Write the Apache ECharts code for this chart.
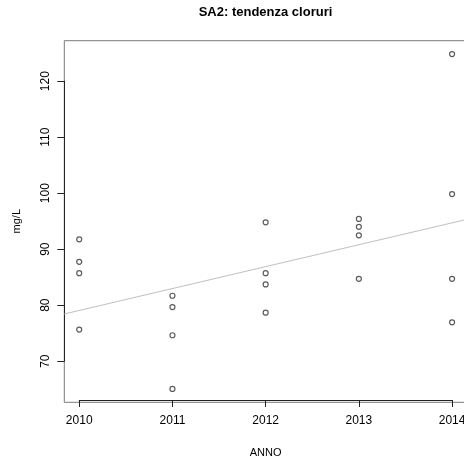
<!DOCTYPE html>
<html>
<head>
<meta charset="utf-8">
<script src="https://cdn.jsdelivr.net/npm/echarts@6/dist/echarts.min.js"></script>
<style>
html,body{margin:0;padding:0;background:#fff;overflow:hidden;width:464px;height:463px;}
#chart{width:472px;height:463px;}
</style>
</head>
<body>
<div id="chart"></div>
<script>
// ---- data ----
const anno = [2010, 2010, 2010, 2010,
              2011, 2011, 2011, 2011,
              2012, 2012, 2012, 2012,
              2013, 2013, 2013, 2013,
              2014, 2014, 2014, 2014];
const cloruri = [92, 88, 86, 76,
                 82, 80, 75, 65.5,
                 95, 86, 84, 79,
                 95.6, 94.2, 92.7, 85,
                 124.8, 100, 85, 77.3];
const xTicks = [2010, 2011, 2012, 2013, 2014];
const yTicks = [70, 80, 90, 100, 110, 120];
const titleText = 'SA2: tendenza cloruri';
const xName = 'ANNO';
const yName = 'mg/L';

// ---- layout (plot box in pixels; the box runs past the right edge of the window) ----
const FONT = 'Liberation Sans, Arial, Helvetica, sans-serif';
const boxL = 64.3, boxT = 40.7, boxR = 467.0, boxB = 402.3;
const boxW = boxR - boxL, boxH = boxB - boxT;

// R-style 4% axis extension
function ext(arr){ const mn=Math.min(...arr), mx=Math.max(...arr), d=(mx-mn)*0.04; return [mn-d, mx+d]; }
const [xMin, xMax] = ext(anno);
const [yMin, yMax] = ext(cloruri);

// least squares fit (abline(lm(y~x)))
const n = anno.length;
const mx = anno.reduce((a,b)=>a+b,0)/n, my = cloruri.reduce((a,b)=>a+b,0)/n;
let sxy=0, sxx=0;
for(let i=0;i<n;i++){ sxy += (anno[i]-mx)*(cloruri[i]-my); sxx += (anno[i]-mx)**2; }
const slope = sxy/sxx, icpt = my - slope*mx;
const fitLine = [[xMin, icpt+slope*xMin],[xMax, icpt+slope*xMax]];

// inner grid spanning the tick range (R draws axis lines only over ticks)
const tx0 = xTicks[0], tx1 = xTicks[xTicks.length-1];
const ty0 = yTicks[0], ty1 = yTicks[yTicks.length-1];
const g1L = boxL + (tx0-xMin)/(xMax-xMin)*boxW;
const g1W = (tx1-tx0)/(xMax-xMin)*boxW;
const g1T = boxT + (yMax-ty1)/(yMax-yMin)*boxH;
const g1H = (ty1-ty0)/(yMax-yMin)*boxH;

const chart = echarts.init(document.getElementById('chart'), null, {renderer:'canvas'});
chart.setOption({
  animation:false,
  backgroundColor:'#fff',
  title:{
    text:titleText, left:265.5, top:6, textAlign:'center', padding:0,
    textStyle:{fontFamily:FONT, fontSize:13, fontWeight:'bold', color:'#000'}
  },
  grid:[
    {left:boxL, top:boxT, width:boxW, height:boxH, show:true, borderColor:'#7a7a7a', borderWidth:1, backgroundColor:'transparent'},
    {left:g1L, top:g1T, width:g1W, height:g1H, show:false}
  ],
  xAxis:[
    {gridIndex:0, type:'value', min:xMin, max:xMax, show:false},
    {gridIndex:1, type:'value', min:tx0, max:tx1, interval:1, position:'bottom',
     offset: boxB-(g1T+g1H),
     axisLine:{show:true, lineStyle:{color:'#222', width:1}},
     axisTick:{show:true, length:7, inside:false, lineStyle:{color:'#222'}},
     axisLabel:{show:true, margin:15, fontFamily:FONT, fontSize:12, color:'#000',
       formatter:v=>String(v), showMinLabel:true, showMaxLabel:true},
     splitLine:{show:false},
     name:xName, nameLocation:'middle', nameGap:47,
     nameTextStyle:{fontFamily:FONT, fontSize:11, color:'#000'}}
  ],
  yAxis:[
    {gridIndex:0, type:'value', min:yMin, max:yMax, show:false},
    {gridIndex:1, type:'value', min:ty0, max:ty1, interval:10, position:'left',
     offset: g1L-boxL,
     axisLine:{show:true, lineStyle:{color:'#222', width:1}},
     axisTick:{show:true, length:7, inside:false, lineStyle:{color:'#222'}},
     axisLabel:{show:true, margin:13, rotate:90, fontFamily:FONT, fontSize:12, color:'#000',
       showMinLabel:true, showMaxLabel:true},
     splitLine:{show:false},
     name:yName, nameLocation:'middle', nameGap:42, nameRotate:90,
     nameTextStyle:{fontFamily:FONT, fontSize:11, color:'#000'}}
  ],
  series:[
    {type:'line', xAxisIndex:0, yAxisIndex:0, data:fitLine, symbol:'none', silent:true,
     lineStyle:{color:'#c0c0c0', width:1}, z:1},
    {type:'scatter', xAxisIndex:0, yAxisIndex:0, data:anno.map((x,i)=>[x, cloruri[i]]),
     symbol:'circle', symbolSize:5,
     itemStyle:{color:'rgba(255,255,255,0)', borderColor:'#333', borderWidth:1.2}, z:2}
  ]
});
</script>
</body>
</html>
